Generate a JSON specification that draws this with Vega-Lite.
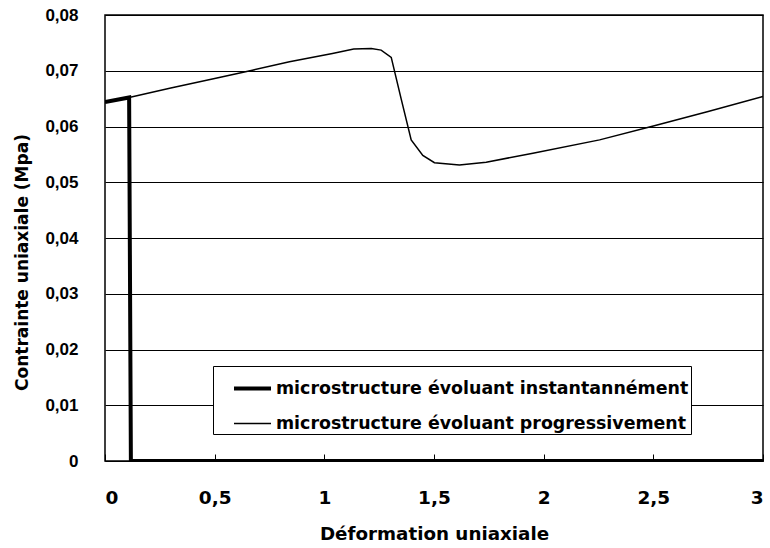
{
  "$schema": "https://vega.github.io/schema/vega-lite/v6.json",
  "width": 658,
  "height": 446,
  "autosize": {"type": "none"},
  "padding": {"left": 105, "top": 15, "right": 7, "bottom": 87},
  "background": "white",
  "config": {
    "view": {"stroke": "black", "strokeWidth": 1.5},
    "font": "DejaVu Sans",
    "axis": {
      "labelFont": "DejaVu Sans",
      "labelFontWeight": "bold",
      "labelFontSize": 17,
      "labelColor": "black",
      "titleFont": "DejaVu Sans",
      "titleFontWeight": "bold",
      "titleColor": "black",
      "domain": false
    },
    "legend": {
      "labelFont": "DejaVu Sans",
      "labelFontWeight": "bold",
      "labelFontSize": 17.4,
      "labelColor": "black"
    }
  },
  "data": {
    "values": [
      {"serie": "microstructure évoluant instantannément", "x": 0, "y": 0.0644},
      {"serie": "microstructure évoluant instantannément", "x": 0.11, "y": 0.0652},
      {"serie": "microstructure évoluant instantannément", "x": 0.118, "y": 0},
      {"serie": "microstructure évoluant instantannément", "x": 3, "y": 0},
      {"serie": "microstructure évoluant progressivement", "x": 0, "y": 0.0644},
      {"serie": "microstructure évoluant progressivement", "x": 0.11, "y": 0.0652},
      {"serie": "microstructure évoluant progressivement", "x": 0.3, "y": 0.0669},
      {"serie": "microstructure évoluant progressivement", "x": 0.5, "y": 0.0686},
      {"serie": "microstructure évoluant progressivement", "x": 0.672, "y": 0.0701},
      {"serie": "microstructure évoluant progressivement", "x": 0.841, "y": 0.0716},
      {"serie": "microstructure évoluant progressivement", "x": 1.037, "y": 0.0731},
      {"serie": "microstructure évoluant progressivement", "x": 1.134, "y": 0.0739},
      {"serie": "microstructure évoluant progressivement", "x": 1.214, "y": 0.0740},
      {"serie": "microstructure évoluant progressivement", "x": 1.259, "y": 0.0737},
      {"serie": "microstructure évoluant progressivement", "x": 1.305, "y": 0.0724},
      {"serie": "microstructure évoluant progressivement", "x": 1.35, "y": 0.0650},
      {"serie": "microstructure évoluant progressivement", "x": 1.396, "y": 0.0576},
      {"serie": "microstructure évoluant progressivement", "x": 1.449, "y": 0.0548},
      {"serie": "microstructure évoluant progressivement", "x": 1.502, "y": 0.0535},
      {"serie": "microstructure évoluant progressivement", "x": 1.616, "y": 0.0531},
      {"serie": "microstructure évoluant progressivement", "x": 1.738, "y": 0.0536},
      {"serie": "microstructure évoluant progressivement", "x": 1.951, "y": 0.0552},
      {"serie": "microstructure évoluant progressivement", "x": 2.255, "y": 0.0576},
      {"serie": "microstructure évoluant progressivement", "x": 2.5, "y": 0.0601},
      {"serie": "microstructure évoluant progressivement", "x": 2.75, "y": 0.0627},
      {"serie": "microstructure évoluant progressivement", "x": 3.0, "y": 0.0654}
    ]
  },
  "mark": {"type": "line", "color": "black", "clip": true},
  "encoding": {
    "x": {
      "field": "x",
      "type": "quantitative",
      "scale": {"domain": [0, 3], "nice": false},
      "axis": {
        "values": [0, 0.5, 1, 1.5, 2, 2.5, 3],
        "labelExpr": "replace(toString(datum.value), '.', ',')",
        "labelFontSize": 18.5,
        "grid": false,
        "ticks": true,
        "tickSize": 7,
        "tickWidth": 1,
        "tickColor": "black",
        "offset": -7,
        "labelPadding": 27,
        "title": "Déformation uniaxiale",
        "titleFontSize": 18.3,
        "titlePadding": 19
      }
    },
    "y": {
      "field": "y",
      "type": "quantitative",
      "scale": {"domain": [0, 0.08], "nice": false},
      "axis": {
        "values": [0, 0.01, 0.02, 0.03, 0.04, 0.05, 0.06, 0.07, 0.08],
        "labelExpr": "datum.value == 0 ? '0' : replace(format(datum.value, '.2f'), '.', ',')",
        "labelFont": "Liberation Sans",
        "labelFontSize": 17,
        "grid": true,
        "gridColor": "black",
        "gridWidth": 1,
        "ticks": false,
        "labelPadding": 27,
        "title": "Contrainte uniaxiale (Mpa)",
        "titleFontSize": 17,
        "titlePadding": 13,
        "titleY": 247
      }
    },
    "detail": {"field": "serie"},
    "strokeWidth": {
      "field": "serie",
      "type": "nominal",
      "scale": {
        "domain": ["microstructure évoluant instantannément", "microstructure évoluant progressivement"],
        "range": [4, 1.5]
      },
      "legend": {
        "title": null,
        "orient": "none",
        "legendX": 108,
        "legendY": 351,
        "symbolType": "stroke",
        "symbolStrokeColor": "black",
        "symbolSize": 1369,
        "symbolOffset": 17,
        "strokeColor": "black",
        "fillColor": "white",
        "padding": 2,
        "rowPadding": 7,
        "labelOffset": 3,
        "labelLimit": 600
      }
    }
  }
}
